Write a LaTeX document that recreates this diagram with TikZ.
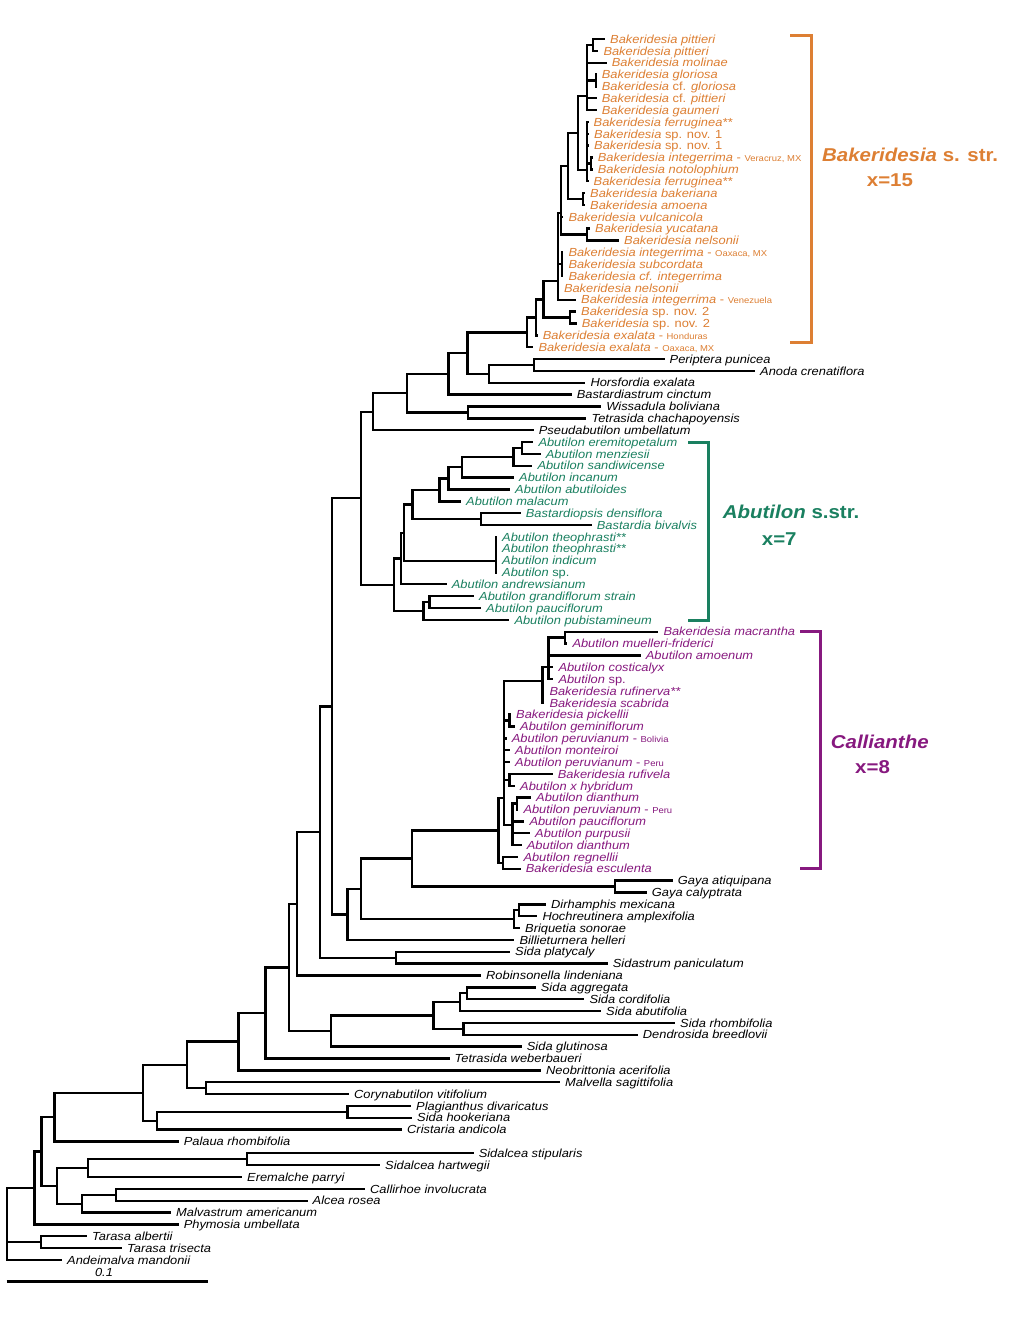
\documentclass[tikz,border=0pt]{standalone}
\usepackage{fontspec}
\setmainfont{Liberation Sans}[FakeStretch=1.1]
\definecolor{bor}{HTML}{DD7F33}
\definecolor{bgr}{HTML}{1A8060}
\definecolor{bpu}{HTML}{87197F}
\tikzset{
 br/.style={line width=2.4pt},
 lab/.style={anchor=base west, inner sep=0pt, font=\fontsize{11.7}{12}\selectfont\itshape},
 oc/.style={text=bor}, gc/.style={text=bgr}, pc/.style={text=bpu},
 brk/.style={line width=3pt},
 big/.style={anchor=base west, inner sep=0pt, font=\fontsize{18.6}{20}\selectfont\bfseries},
}
\newcommand\loc[1]{{\upshape\fontsize{8.6}{9}\selectfont #1}}
\newcommand\up[1]{{\upshape #1}}
\newcommand\leaf[5]{\coordinate (#1) at (#2,#3); \node[lab,#4] (#1L) at ([xshift=5pt,yshift=-4.2pt]#1) {#5};}
\newcommand\edges[2]{\draw[br] \foreach \ch in {#2} {(#1) |- (\ch)};}
\begin{document}
\begin{tikzpicture}[x=1pt,y=-1pt]
\useasboundingbox[fill=white] (0,0) rectangle (1020,1320);
% ---------- leaves ----------
\leaf{l1}{605}{39.00}{oc}{Bakeridesia pittieri}
\leaf{l2}{598.3}{50.85}{oc}{Bakeridesia pittieri}
\leaf{l3}{606.7}{62.71}{oc}{Bakeridesia molinae}
\leaf{l4}{596.7}{74.56}{oc}{Bakeridesia gloriosa}
\leaf{l5}{596.7}{86.42}{oc}{Bakeridesia \up{cf.} gloriosa}
\leaf{l6}{596.7}{98.27}{oc}{Bakeridesia \up{cf.} pittieri}
\leaf{l7}{596.7}{110.12}{oc}{Bakeridesia gaumeri}
\leaf{l8}{588.5}{121.98}{oc}{Bakeridesia ferruginea**}
\leaf{l9}{589}{133.83}{oc}{Bakeridesia \up{sp. nov. 1}}
\leaf{l10}{589}{145.69}{oc}{Bakeridesia \up{sp. nov. 1}}
\leaf{l11}{592.7}{157.54}{oc}{Bakeridesia integerrima \up{-} \loc{Veracruz, MX}}
\leaf{l12}{592.7}{169.39}{oc}{Bakeridesia notolophium}
\leaf{l13}{588.5}{181.25}{oc}{Bakeridesia ferruginea**}
\leaf{l14}{585}{193.10}{oc}{Bakeridesia bakeriana}
\leaf{l15}{585}{204.96}{oc}{Bakeridesia amoena}
\leaf{l16}{563.3}{216.81}{oc}{Bakeridesia vulcanicola}
\leaf{l17}{590}{228.66}{oc}{Bakeridesia yucatana}
\leaf{l18}{619}{240.52}{oc}{Bakeridesia nelsonii}
\leaf{l19}{563.3}{252.37}{oc}{Bakeridesia integerrima \up{-} \loc{Oaxaca, MX}}
\leaf{l20}{563.3}{264.23}{oc}{Bakeridesia subcordata}
\leaf{l21}{563.3}{276.08}{oc}{Bakeridesia cf. integerrima}
\leaf{l22}{558.8}{287.93}{oc}{Bakeridesia nelsonii}
\leaf{l23}{576}{299.79}{oc}{Bakeridesia integerrima \up{-} \loc{Venezuela}}
\leaf{l24}{576}{311.64}{oc}{Bakeridesia \up{sp. nov. 2}}
\leaf{l25}{576.7}{323.50}{oc}{Bakeridesia \up{sp. nov. 2}}
\leaf{l26}{537.7}{335.35}{oc}{Bakeridesia exalata \up{-} \loc{Honduras}}
\leaf{l27}{533.3}{347.20}{oc}{Bakeridesia exalata \up{-} \loc{Oaxaca, MX}}
\leaf{l28}{664.5}{359.06}{}{Periptera punicea}
\leaf{l29}{755}{370.91}{}{Anoda crenatiflora}
\leaf{l30}{585.3}{382.77}{}{Horsfordia exalata}
\leaf{l31}{571.6}{394.62}{}{Bastardiastrum cinctum}
\leaf{l32}{601.2}{406.47}{}{Wissadula boliviana}
\leaf{l33}{586.4}{418.33}{}{Tetrasida chachapoyensis}
\leaf{l34}{533.7}{430.18}{}{Pseudabutilon umbellatum}
\leaf{l35}{533.3}{442.04}{gc}{Abutilon eremitopetalum}
\leaf{l36}{540.7}{453.89}{gc}{Abutilon menziesii}
\leaf{l37}{532.3}{465.74}{gc}{Abutilon sandiwicense}
\leaf{l38}{514}{477.60}{gc}{Abutilon incanum}
\leaf{l39}{510}{489.45}{gc}{Abutilon abutiloides}
\leaf{l40}{461}{501.31}{gc}{Abutilon malacum}
\leaf{l41}{520.7}{513.16}{gc}{Bastardiopsis densiflora}
\leaf{l42}{591.7}{525.01}{gc}{Bastardia bivalvis}
\leaf{l43}{497}{536.87}{gc}{Abutilon theophrasti**}
\leaf{l44}{497}{548.72}{gc}{Abutilon theophrasti**}
\leaf{l45}{497}{560.58}{gc}{Abutilon indicum}
\leaf{l46}{497}{572.43}{gc}{Abutilon \up{sp.}}
\leaf{l47}{446.7}{584.28}{gc}{Abutilon andrewsianum}
\leaf{l48}{474}{596.14}{gc}{Abutilon grandiflorum strain}
\leaf{l49}{481}{607.99}{gc}{Abutilon pauciflorum}
\leaf{l50}{509.3}{619.85}{gc}{Abutilon pubistamineum}
\leaf{l51}{658.3}{631.70}{pc}{Bakeridesia macrantha}
\leaf{l52}{567.3}{643.55}{pc}{Abutilon muelleri-friderici}
\leaf{l53}{640.7}{655.41}{pc}{Abutilon amoenum}
\leaf{l54}{553.3}{667.26}{pc}{Abutilon costicalyx}
\leaf{l55}{553.3}{679.12}{pc}{Abutilon \up{sp.}}
\leaf{l56}{544.3}{690.97}{pc}{Bakeridesia rufinerva**}
\leaf{l57}{544.3}{702.82}{pc}{Bakeridesia scabrida}
\leaf{l58}{511}{714.68}{pc}{Bakeridesia pickellii}
\leaf{l59}{515}{726.53}{pc}{Abutilon geminiflorum}
\leaf{l60}{506.7}{738.39}{pc}{Abutilon peruvianum \up{-} \loc{Bolivia}}
\leaf{l61}{510}{750.24}{pc}{Abutilon monteiroi}
\leaf{l62}{510}{762.09}{pc}{Abutilon peruvianum \up{-} \loc{Peru}}
\leaf{l63}{552.7}{773.95}{pc}{Bakeridesia rufivela}
\leaf{l64}{515}{785.80}{pc}{Abutilon x hybridum}
\leaf{l65}{531}{797.66}{pc}{Abutilon dianthum}
\leaf{l66}{518.3}{809.51}{pc}{Abutilon peruvianum \up{-} \loc{Peru}}
\leaf{l67}{524.3}{821.36}{pc}{Abutilon pauciflorum}
\leaf{l68}{530}{833.22}{pc}{Abutilon purpusii}
\leaf{l69}{521.7}{845.07}{pc}{Abutilon dianthum}
\leaf{l70}{518.3}{856.93}{pc}{Abutilon regnellii}
\leaf{l71}{520.7}{868.78}{pc}{Bakeridesia esculenta}
\leaf{l72}{672.7}{880.63}{}{Gaya atiquipana}
\leaf{l73}{646.7}{892.49}{}{Gaya calyptrata}
\leaf{l74}{546}{904.34}{}{Dirhamphis mexicana}
\leaf{l75}{537.3}{916.20}{}{Hochreutinera amplexifolia}
\leaf{l76}{520}{928.05}{}{Briquetia sonorae}
\leaf{l77}{514.3}{939.90}{}{Billieturnera helleri}
\leaf{l78}{510}{951.76}{}{Sida platycaly}
\leaf{l79}{607.7}{963.61}{}{Sidastrum paniculatum}
\leaf{l80}{481}{975.47}{}{Robinsonella lindeniana}
\leaf{l81}{535.7}{987.32}{}{Sida aggregata}
\leaf{l82}{584.3}{999.17}{}{Sida cordifolia}
\leaf{l83}{601}{1011.03}{}{Sida abutifolia}
\leaf{l84}{675}{1022.88}{}{Sida rhombifolia}
\leaf{l85}{637.7}{1034.74}{}{Dendrosida breedlovii}
\leaf{l86}{521.7}{1046.59}{}{Sida glutinosa}
\leaf{l87}{449.5}{1058.44}{}{Tetrasida weberbaueri}
\leaf{l88}{541}{1070.30}{}{Neobrittonia acerifolia}
\leaf{l89}{560}{1082.15}{}{Malvella sagittifolia}
\leaf{l90}{349}{1094.01}{}{Corynabutilon vitifolium}
\leaf{l91}{411}{1105.86}{}{Plagianthus divaricatus}
\leaf{l92}{412}{1117.71}{}{Sida hookeriana}
\leaf{l93}{402}{1129.57}{}{Cristaria andicola}
\leaf{l94}{178.6}{1141.42}{}{Palaua rhombifolia}
\leaf{l95}{473.6}{1153.28}{}{Sidalcea stipularis}
\leaf{l96}{380}{1165.13}{}{Sidalcea hartwegii}
\leaf{l97}{242}{1176.98}{}{Eremalche parryi}
\leaf{l98}{365}{1188.84}{}{Callirhoe involucrata}
\leaf{l99}{307.5}{1200.69}{}{Alcea rosea}
\leaf{l100}{171}{1212.55}{}{Malvastrum americanum}
\leaf{l101}{178.6}{1224.40}{}{Phymosia umbellata}
\leaf{l102}{87}{1236.25}{}{Tarasa albertii}
\leaf{l103}{122}{1248.11}{}{Tarasa trisecta}
\leaf{l104}{62}{1260.00}{}{Andeimalva mandonii}
% ---------- internal nodes ----------
\coordinate (P12) at (592.7,44.9);
\coordinate (gl) at (596,80.49);
\coordinate (A) at (587,96);
\coordinate (B11) at (591,163.47);
\coordinate (B) at (587,170);
\coordinate (C) at (578,133);
\coordinate (D) at (583,199.03);
\coordinate (E) at (568,166);
\coordinate (F) at (587,234.59);
\coordinate (G) at (561,213);
\coordinate (H) at (562,264.23);
\coordinate (I) at (558,281);
\coordinate (J) at (570,317.57);
\coordinate (K) at (543.3,299.3);
\coordinate (L) at (536,317.3);
\coordinate (M) at (527,332.3);
\coordinate (O) at (533.9,365);
\coordinate (P) at (489,373.9);
\coordinate (N) at (467.4,353.1);
\coordinate (Q) at (448.5,373.9);
\coordinate (R) at (468,412.4);
\coordinate (S) at (407,393.2);
\coordinate (T) at (372.7,411.7);
\coordinate (ab1) at (521.7,447.97);
\coordinate (ab2) at (513.3,456.86);
\coordinate (ab3) at (461.7,467.23);
\coordinate (ab4) at (448.3,478.34);
\coordinate (ab5) at (439.3,489.82);
\coordinate (ab6) at (480.7,519.09);
\coordinate (ab7) at (412.3,504.45);
\coordinate (ab8) at (495.7,561);
\coordinate (ab9) at (404,532.7);
\coordinate (ab10) at (400.7,558.5);
\coordinate (ab11) at (429.3,602.07);
\coordinate (ab12) at (423.3,610.96);
\coordinate (ab13) at (394,584.7);
\coordinate (U) at (361,498.2);
\coordinate (c1) at (565,637.6);
\coordinate (c2) at (548.3,667);
\coordinate (c3) at (542.3,681);
\coordinate (c4) at (509.3,720.6);
\coordinate (c5) at (509.3,779.9);
\coordinate (c6) at (516.7,803.6);
\coordinate (c7) at (512.3,825);
\coordinate (c8) at (504,798);
\coordinate (c9) at (502.7,862.86);
\coordinate (c10) at (498.3,830.4);
\coordinate (g) at (615,886.56);
\coordinate (V) at (411.7,858.5);
\coordinate (Dh) at (519,910.27);
\coordinate (Dh2) at (514,919.16);
\coordinate (W) at (361,888.8);
\coordinate (X) at (347.3,914.4);
\coordinate (Y) at (331.7,706.3);
\coordinate (sp) at (396,957.7);
\coordinate (Z) at (320,832);
\coordinate (AA) at (296.7,903.7);
\coordinate (s1) at (466.7,993.25);
\coordinate (s2) at (460,1002.14);
\coordinate (s3) at (463.3,1028.81);
\coordinate (s4) at (433.3,1015.48);
\coordinate (s5) at (330.7,1031.03);
\coordinate (BB) at (289,967.4);
\coordinate (CC) at (265.3,1012.9);
\coordinate (DD) at (238.3,1041.6);
\coordinate (MC) at (206,1088.1);
\coordinate (EE) at (186.7,1064.8);
\coordinate (PS) at (347.3,1111.8);
\coordinate (PC) at (157,1120.7);
\coordinate (FF) at (142.9,1092.8);
\coordinate (GG) at (54.5,1117.1);
\coordinate (SS) at (246.9,1159.2);
\coordinate (SE) at (88,1168.1);
\coordinate (CA) at (116,1194.8);
\coordinate (CM) at (81.7,1203.7);
\coordinate (HH) at (57.1,1185.9);
\coordinate (II) at (41.5,1151.5);
\coordinate (JJ) at (34.4,1188);
\coordinate (TA) at (41,1242.2);
\coordinate (root) at (6.7,1224);
% ---------- branches ----------
\edges{P12}{l1,l2}
\edges{gl}{l4,l5}
\edges{A}{P12,l3,gl,l6,l7}
\edges{B11}{l11,l12}
\edges{B}{l8,l9,l10,B11,l13}
\edges{C}{A,B}
\edges{D}{l14,l15}
\edges{E}{C,D}
\edges{F}{l17,l18}
\edges{G}{E,l16,F}
\edges{H}{l19,l20,l21}
\edges{I}{G,H,l22,l23}
\edges{J}{l24,l25}
\edges{K}{I,J}
\edges{L}{K,l26}
\edges{M}{L,l27}
\edges{O}{l28,l29}
\edges{P}{O,l30}
\edges{N}{M,P}
\edges{Q}{N,l31}
\edges{R}{l32,l33}
\edges{S}{Q,R}
\edges{T}{S,l34}
\edges{ab1}{l35,l36}
\edges{ab2}{ab1,l37}
\edges{ab3}{ab2,l38}
\edges{ab4}{ab3,l39}
\edges{ab5}{ab4,l40}
\edges{ab6}{l41,l42}
\edges{ab7}{ab5,ab6}
\edges{ab8}{l43,l44,l45,l46}
\edges{ab9}{ab7,ab8}
\edges{ab10}{ab9,l47}
\edges{ab11}{l48,l49}
\edges{ab12}{ab11,l50}
\edges{ab13}{ab10,ab12}
\edges{U}{T,ab13}
\edges{c1}{l51,l52}
\edges{c2}{c1,l53,l54,l55}
\edges{c3}{c2,l56,l57}
\edges{c4}{l58,l59}
\edges{c5}{l63,l64}
\edges{c6}{l65,l66}
\edges{c7}{c6,l67,l68,l69}
\edges{c8}{c3,c4,l60,l61,l62,c5,c7}
\edges{c9}{l70,l71}
\edges{c10}{c8,c9}
\edges{g}{l72,l73}
\edges{V}{c10,g}
\edges{Dh}{l74,l75}
\edges{Dh2}{Dh,l76}
\edges{W}{V,Dh2}
\edges{X}{W,l77}
\edges{Y}{U,X}
\edges{sp}{l78,l79}
\edges{Z}{Y,sp}
\edges{AA}{Z,l80}
\edges{s1}{l81,l82}
\edges{s2}{s1,l83}
\edges{s3}{l84,l85}
\edges{s4}{s2,s3}
\edges{s5}{s4,l86}
\edges{BB}{AA,s5}
\edges{CC}{BB,l87}
\edges{DD}{CC,l88}
\edges{MC}{l89,l90}
\edges{EE}{DD,MC}
\edges{PS}{l91,l92}
\edges{PC}{PS,l93}
\edges{FF}{EE,PC}
\edges{GG}{FF,l94}
\edges{SS}{l95,l96}
\edges{SE}{SS,l97}
\edges{CA}{l98,l99}
\edges{CM}{CA,l100}
\edges{HH}{SE,CM}
\edges{II}{GG,HH}
\edges{JJ}{II,l101}
\edges{TA}{l102,l103}
\edges{root}{JJ,TA,l104}
% ---------- brackets and clade labels ----------
\draw[brk,bor] (790,35) -- (811,35) -- (811,342) -- (790,342);
\draw[brk,bgr] (688,442) -- (708,442) -- (708,620) -- (688,620);
\draw[brk,bpu] (800,631) -- (820,631) -- (820,868.5) -- (800,868.5);
\node[big,text=bor] (bk) at (822,161.7) {\textit{Bakeridesia} s. str.};
\node[big,text=bor] (bx) at (866.7,186.7) {x=15};
\node[big,text=bgr] (abl) at (722.7,518.3) {\textit{Abutilon} s.str.};
\node[big,text=bgr] (abx) at (761.7,545) {x=7};
\node[big,text=bpu] (cal) at (830.7,748.3) {\textit{Callianthe}};
\node[big,text=bpu] (cax) at (855,773.3) {x=8};
% ---------- scale bar ----------
\coordinate (sb1) at (6.7,1281.7);
\coordinate (sb2) at (207.6,1281.7);
\draw[line width=2.6pt] (sb1) -- (sb2);
\node[lab,anchor=base] (sbl) at (104,1276.7) {0.1};
\end{tikzpicture}
\end{document}
